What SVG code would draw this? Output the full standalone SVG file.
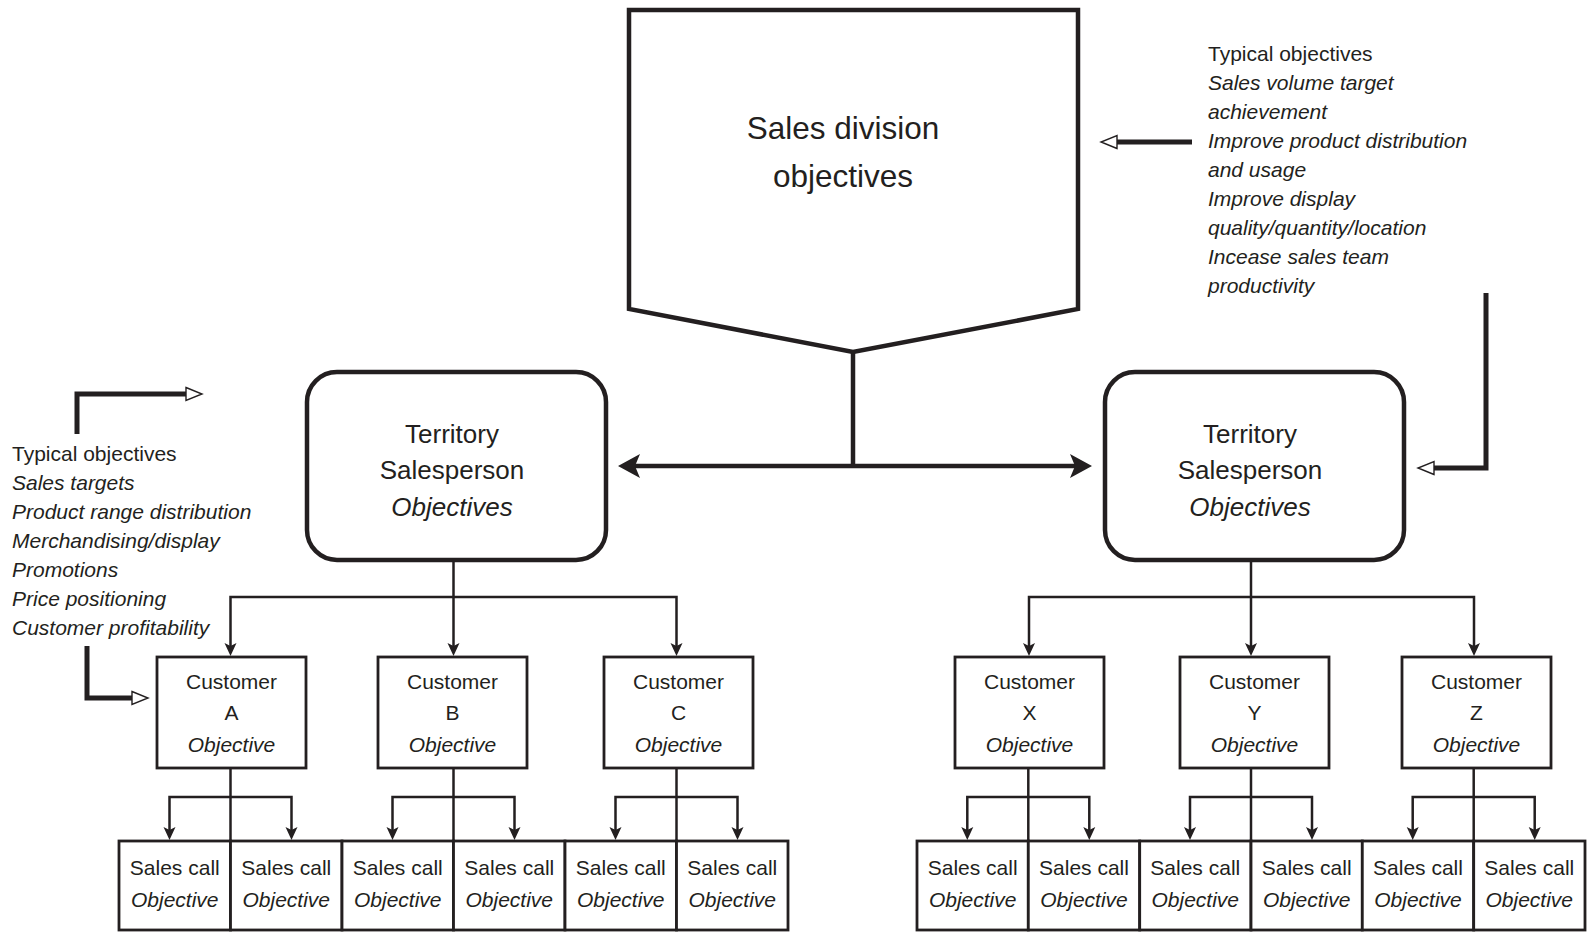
<svg xmlns="http://www.w3.org/2000/svg" width="1593" height="932" viewBox="0 0 1593 932">
  <style>
    text { font-family: "Liberation Sans", Arial, sans-serif; fill: #231f20; }
    .it { font-style: italic; }
    .big { font-size: 31.5px; text-anchor: middle; }
    .terr { font-size: 26px; text-anchor: middle; }
    .cust { font-size: 21px; text-anchor: middle; }
    .note { font-size: 21px; }
    .heavy { fill: #fff; stroke: #231f20; stroke-width: 4.5; stroke-linejoin: miter; }
    .box { fill: #fff; stroke: #231f20; stroke-width: 2.8; }
    .link { fill: none; stroke: #231f20; stroke-width: 2.5; }
    .main { fill: none; stroke: #231f20; stroke-width: 4.5; }
    .feed { fill: none; stroke: #231f20; stroke-width: 5; stroke-linejoin: miter; }
  </style>
  <defs>
    <marker id="headBig" viewBox="0 0 22 24" refX="12" refY="12" markerWidth="22" markerHeight="24" markerUnits="userSpaceOnUse" orient="auto-start-reverse" overflow="visible">
      <path d="M0,0 L22,12 L0,24 L5,12 Z" fill="#231f20"/>
    </marker>
    <marker id="headSmall" viewBox="0 0 13 12" refX="6" refY="6" markerWidth="13" markerHeight="12" markerUnits="userSpaceOnUse" orient="auto-start-reverse" overflow="visible">
      <path d="M0,0 L13,6 L0,12 L3,6 Z" fill="#231f20"/>
    </marker>
    <marker id="headOpen" viewBox="0 0 16 13" refX="0" refY="6.5" markerWidth="16" markerHeight="13" markerUnits="userSpaceOnUse" orient="auto" overflow="visible">
      <path d="M0,0 L16,6.5 L0,13 Z" fill="#fff" stroke="#231f20" stroke-width="1.4"/>
    </marker>
  </defs>

  <!-- connectors -->
  <g id="connectors">
    <!-- division down to the two territories -->
    <path class="main" d="M853 352 V466"/>
    <path class="main" d="M628 466 H1082" marker-start="url(#headBig)" marker-end="url(#headBig)"/>

    <!-- objective feeds -->
    <path class="feed" d="M1192 142 H1117" marker-end="url(#headOpen)"/>
    <path class="feed" d="M1486 293 V468 H1434" marker-end="url(#headOpen)"/>
    <path class="feed" d="M77 434 V394 H186" marker-end="url(#headOpen)"/>
    <path class="feed" d="M87 646 V698 H132" marker-end="url(#headOpen)"/>

    <!-- left territory to customers -->
    <path class="link" d="M453.5 560 V649" marker-end="url(#headSmall)"/>
    <path class="link" d="M230.5 649 V597 H676.5 V649" marker-start="url(#headSmall)" marker-end="url(#headSmall)"/>
    <!-- right territory to customers -->
    <path class="link" d="M1251 560 V649" marker-end="url(#headSmall)"/>
    <path class="link" d="M1029 649 V597 H1474 V649" marker-start="url(#headSmall)" marker-end="url(#headSmall)"/>

    <!-- customers to sales calls -->
    <path class="link" d="M230.5 768 V841"/>
    <path class="link" d="M169.5 833 V797 H291.5 V833" marker-start="url(#headSmall)" marker-end="url(#headSmall)"/>
    <path class="link" d="M453.5 768 V841"/>
    <path class="link" d="M392.5 833 V797 H514.5 V833" marker-start="url(#headSmall)" marker-end="url(#headSmall)"/>
    <path class="link" d="M676.5 768 V841"/>
    <path class="link" d="M615.5 833 V797 H737.5 V833" marker-start="url(#headSmall)" marker-end="url(#headSmall)"/>
    <path class="link" d="M1028.3 768 V841"/>
    <path class="link" d="M967.3 833 V797 H1089.3 V833" marker-start="url(#headSmall)" marker-end="url(#headSmall)"/>
    <path class="link" d="M1251 768 V841"/>
    <path class="link" d="M1190 833 V797 H1312 V833" marker-start="url(#headSmall)" marker-end="url(#headSmall)"/>
    <path class="link" d="M1473.7 768 V841"/>
    <path class="link" d="M1412.7 833 V797 H1534.7 V833" marker-start="url(#headSmall)" marker-end="url(#headSmall)"/>
  </g>

  <!-- top node -->
  <g id="division">
    <path class="heavy" d="M629 10 H1078 V309 L853 352 L629 309 Z"/>
    <text class="big" x="843" y="139">Sales division</text>
    <text class="big" x="843" y="187">objectives</text>
  </g>

  <!-- objective notes -->
  <g id="note-division">
    <text class="note" x="1208" y="61">Typical objectives</text>
    <text class="note it" x="1208" y="90">Sales volume target</text>
    <text class="note it" x="1208" y="119">achievement</text>
    <text class="note it" x="1208" y="148">Improve product distribution</text>
    <text class="note it" x="1208" y="177">and usage</text>
    <text class="note it" x="1208" y="206">Improve display</text>
    <text class="note it" x="1208" y="235">quality/quantity/location</text>
    <text class="note it" x="1208" y="264">Incease sales team</text>
    <text class="note it" x="1208" y="293">productivity</text>
  </g>
  <g id="note-territory">
    <text class="note" x="12" y="461">Typical objectives</text>
    <text class="note it" x="12" y="490">Sales targets</text>
    <text class="note it" x="12" y="519">Product range distribution</text>
    <text class="note it" x="12" y="548">Merchandising/display</text>
    <text class="note it" x="12" y="577">Promotions</text>
    <text class="note it" x="12" y="606">Price positioning</text>
    <text class="note it" x="12" y="635">Customer profitability</text>
  </g>

  <!-- territory nodes -->
  <g id="territory-left">
    <rect class="heavy" x="307" y="372" width="299" height="188" rx="30"/>
    <text class="terr" x="452" y="443">Territory</text>
    <text class="terr" x="452" y="479">Salesperson</text>
    <text class="terr it" x="452" y="516">Objectives</text>
  </g>
  <g id="territory-right">
    <rect class="heavy" x="1105" y="372" width="299" height="188" rx="30"/>
    <text class="terr" x="1250" y="443">Territory</text>
    <text class="terr" x="1250" y="479">Salesperson</text>
    <text class="terr it" x="1250" y="516">Objectives</text>
  </g>

  <!-- customer nodes -->
  <g id="customer-a">
    <rect class="box" x="157" y="657" width="149" height="111"/>
    <text class="cust" x="231.5" y="689">Customer</text>
    <text class="cust" x="231.5" y="720">A</text>
    <text class="cust it" x="231.5" y="752">Objective</text>
  </g>
  <g id="customer-b">
    <rect class="box" x="378" y="657" width="149" height="111"/>
    <text class="cust" x="452.5" y="689">Customer</text>
    <text class="cust" x="452.5" y="720">B</text>
    <text class="cust it" x="452.5" y="752">Objective</text>
  </g>
  <g id="customer-c">
    <rect class="box" x="604" y="657" width="149" height="111"/>
    <text class="cust" x="678.5" y="689">Customer</text>
    <text class="cust" x="678.5" y="720">C</text>
    <text class="cust it" x="678.5" y="752">Objective</text>
  </g>
  <g id="customer-x">
    <rect class="box" x="955" y="657" width="149" height="111"/>
    <text class="cust" x="1029.5" y="689">Customer</text>
    <text class="cust" x="1029.5" y="720">X</text>
    <text class="cust it" x="1029.5" y="752">Objective</text>
  </g>
  <g id="customer-y">
    <rect class="box" x="1180" y="657" width="149" height="111"/>
    <text class="cust" x="1254.5" y="689">Customer</text>
    <text class="cust" x="1254.5" y="720">Y</text>
    <text class="cust it" x="1254.5" y="752">Objective</text>
  </g>
  <g id="customer-z">
    <rect class="box" x="1402" y="657" width="149" height="111"/>
    <text class="cust" x="1476.5" y="689">Customer</text>
    <text class="cust" x="1476.5" y="720">Z</text>
    <text class="cust it" x="1476.5" y="752">Objective</text>
  </g>

  <!-- sales call nodes -->
  <g id="call-a1"><rect class="box" x="119" y="841" width="111.5" height="89"/><text class="cust" x="174.8" y="875">Sales call</text><text class="cust it" x="174.8" y="907">Objective</text></g>
  <g id="call-a2"><rect class="box" x="230.5" y="841" width="111.5" height="89"/><text class="cust" x="286.3" y="875">Sales call</text><text class="cust it" x="286.3" y="907">Objective</text></g>
  <g id="call-b1"><rect class="box" x="342" y="841" width="111.5" height="89"/><text class="cust" x="397.8" y="875">Sales call</text><text class="cust it" x="397.8" y="907">Objective</text></g>
  <g id="call-b2"><rect class="box" x="453.5" y="841" width="111.5" height="89"/><text class="cust" x="509.3" y="875">Sales call</text><text class="cust it" x="509.3" y="907">Objective</text></g>
  <g id="call-c1"><rect class="box" x="565" y="841" width="111.5" height="89"/><text class="cust" x="620.8" y="875">Sales call</text><text class="cust it" x="620.8" y="907">Objective</text></g>
  <g id="call-c2"><rect class="box" x="676.5" y="841" width="111.5" height="89"/><text class="cust" x="732.3" y="875">Sales call</text><text class="cust it" x="732.3" y="907">Objective</text></g>
  <g id="call-x1"><rect class="box" x="917" y="841" width="111.3" height="89"/><text class="cust" x="972.7" y="875">Sales call</text><text class="cust it" x="972.7" y="907">Objective</text></g>
  <g id="call-x2"><rect class="box" x="1028.3" y="841" width="111.4" height="89"/><text class="cust" x="1084" y="875">Sales call</text><text class="cust it" x="1084" y="907">Objective</text></g>
  <g id="call-y1"><rect class="box" x="1139.7" y="841" width="111.3" height="89"/><text class="cust" x="1195.3" y="875">Sales call</text><text class="cust it" x="1195.3" y="907">Objective</text></g>
  <g id="call-y2"><rect class="box" x="1251" y="841" width="111.3" height="89"/><text class="cust" x="1306.7" y="875">Sales call</text><text class="cust it" x="1306.7" y="907">Objective</text></g>
  <g id="call-z1"><rect class="box" x="1362.3" y="841" width="111.4" height="89"/><text class="cust" x="1418" y="875">Sales call</text><text class="cust it" x="1418" y="907">Objective</text></g>
  <g id="call-z2"><rect class="box" x="1473.7" y="841" width="111.3" height="89"/><text class="cust" x="1529.3" y="875">Sales call</text><text class="cust it" x="1529.3" y="907">Objective</text></g>
</svg>
